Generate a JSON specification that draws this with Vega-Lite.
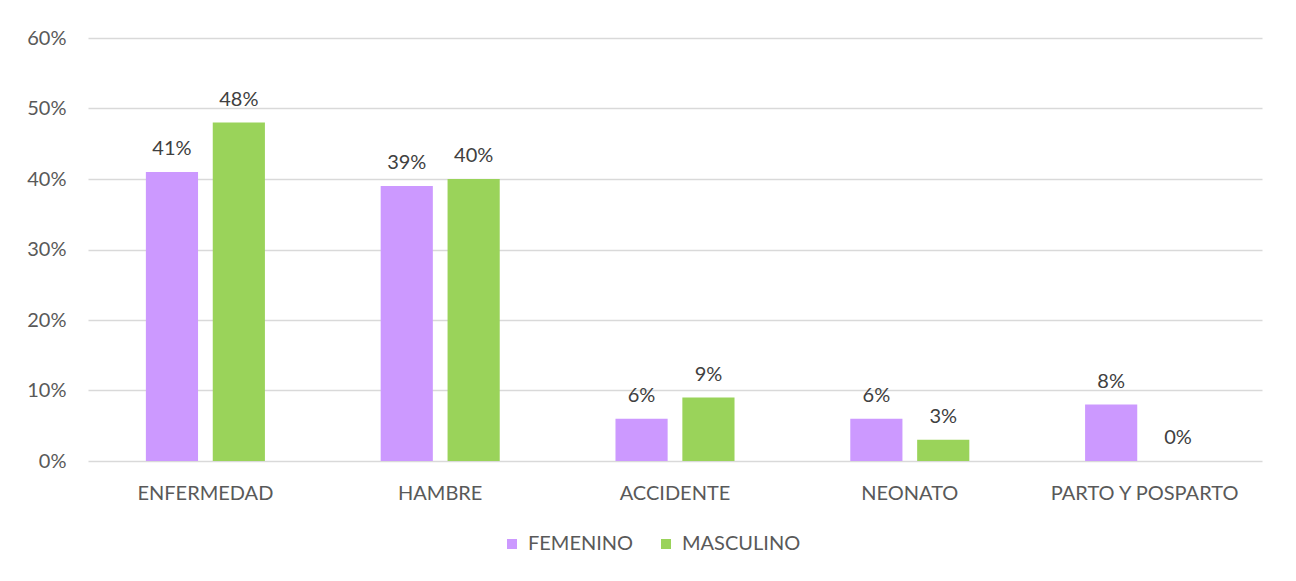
{
  "$schema": "https://vega.github.io/schema/vega-lite/v6.json",
  "autosize": "none",
  "width": 1174,
  "height": 423,
  "padding": {"left": 88, "top": 38, "right": 34, "bottom": 120},
  "background": "white",
  "config": {
    "view": {"stroke": null},
    "font": "Lato"
  },
  "data": {
    "values": [
      {"causa": "ENFERMEDAD", "sexo": "FEMENINO", "valor": 0.41},
      {"causa": "ENFERMEDAD", "sexo": "MASCULINO", "valor": 0.48},
      {"causa": "HAMBRE", "sexo": "FEMENINO", "valor": 0.39},
      {"causa": "HAMBRE", "sexo": "MASCULINO", "valor": 0.40},
      {"causa": "ACCIDENTE", "sexo": "FEMENINO", "valor": 0.06},
      {"causa": "ACCIDENTE", "sexo": "MASCULINO", "valor": 0.09},
      {"causa": "NEONATO", "sexo": "FEMENINO", "valor": 0.06},
      {"causa": "NEONATO", "sexo": "MASCULINO", "valor": 0.03},
      {"causa": "PARTO Y POSPARTO", "sexo": "FEMENINO", "valor": 0.08},
      {"causa": "PARTO Y POSPARTO", "sexo": "MASCULINO", "valor": 0.0}
    ]
  },
  "encoding": {
    "x": {
      "field": "causa", "type": "nominal", "sort": null,
      "scale": {"paddingInner": 0.493, "paddingOuter": 0.2465},
      "axis": {"title": null, "labelAngle": 0, "ticks": false, "domain": false, "labelPadding": 22, "labelLimit": 0, "labelFontSize": 20, "labelColor": "#595959", "labelFont": "Lato"}
    },
    "xOffset": {
      "field": "sexo", "type": "nominal",
      "scale": {"paddingInner": 0.22, "paddingOuter": 0}
    },
    "y": {
      "field": "valor", "type": "quantitative",
      "scale": {"domain": [0, 0.6]},
      "axis": {"title": null, "format": ".0%", "values": [0, 0.1, 0.2, 0.3, 0.4, 0.5, 0.6], "labelOverlap": false, "ticks": false, "domain": false, "gridColor": "#d9d9d9", "gridWidth": 1.3, "labelPadding": 22, "labelFontSize": 20, "labelColor": "#595959", "labelFont": "Lato"}
    }
  },
  "layer": [
    {
      "mark": {"type": "bar"},
      "encoding": {
        "color": {
          "field": "sexo", "type": "nominal",
          "scale": {"domain": ["FEMENINO", "MASCULINO"], "range": ["#cc99ff", "#9ad35a"]},
          "legend": {
            "title": null, "orient": "none", "direction": "horizontal",
            "legendX": 414, "legendY": 496, "symbolType": "square", "symbolSize": 100,
            "columnPadding": 22, "labelOffset": 6, "labelFontSize": 20, "labelColor": "#595959", "labelFont": "Lato"
          }
        }
      }
    },
    {
      "mark": {"type": "text", "baseline": "bottom", "dy": -13, "fontSize": 20, "color": "#404040", "font": "Lato"},
      "encoding": {
        "text": {"field": "valor", "type": "quantitative", "format": ".0%"}
      }
    }
  ]
}
